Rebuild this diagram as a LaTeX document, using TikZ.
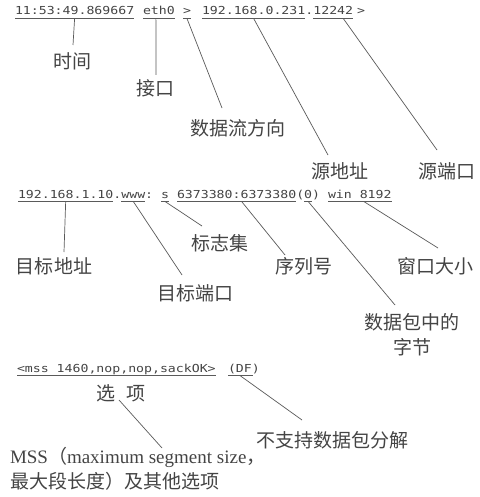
\documentclass[tikz,border=0pt]{standalone}
\usepackage{fontspec}
\setmainfont{Liberation Serif}
\newfontfamily\cjkfont{Noto Sans CJK SC}
\newfontfamily\monofont[FakeStretch=1.2]{DejaVu Sans Mono}
\definecolor{inkgray}{HTML}{444444}
\definecolor{wiregray}{HTML}{5A5A5A}
\tikzset{
  tok/.style={font=\monofont\fontsize{11}{12}\selectfont, text=inkgray, inner sep=0pt, outer sep=0pt, anchor=base west},
  lbl/.style={font=\cjkfont\fontsize{19}{25}\selectfont, text=inkgray, inner sep=0pt, outer sep=0pt},
  uline/.style={draw=wiregray, line width=0.9pt},
  conn/.style={draw=wiregray, line width=0.7pt},
}
\newcommand\ulnode[1]{\draw[uline] ([yshift=-3.5pt]#1.base west) -- ([yshift=-3.5pt]#1.base east);}
\begin{document}
\begin{tikzpicture}[x=1pt,y=-1pt]
\fill[white] (0,0) rectangle (479,497);
\useasboundingbox (0,0) rectangle (479,497);

% ---------- row 1 ----------
\node[tok] (time) at (15,15) {11:53:49.869667};
\node[tok] (eth) at (143,15) {eth0};
\node[tok] (dir) at (183,15) {>};
\node[tok] (sip) at (202,15) {192.168.0.231};
\node[tok] (dot1) at (305.4,15) {.};
\node[tok] (sport) at (313.4,15) {12242};
\node[tok] (gt2) at (357,15) {>};
\ulnode{time}\ulnode{eth}\ulnode{dir}\ulnode{sip}\ulnode{sport}

\node[lbl] (lTime) at (72,61) {时间};
\node[lbl] (lIf) at (155,88) {接口};
\node[lbl] (lDir) at (238,128) {数据流方向};
\node[lbl] (lSrc) at (340,171) {源地址};
\node[lbl] (lSport) at (447,171) {源端口};

\draw[conn] ([yshift=-3.5pt]time.base) -- ([shift={(1,-16)}]lTime.center);
\draw[conn] ([xshift=-3pt,yshift=-3.5pt]eth.base) -- ([shift={(1,-13)}]lIf.center);
\draw[conn] ([yshift=-3.5pt]dir.base) -- ([shift={(-16,-20)}]lDir.center);
\draw[conn] ([yshift=-3.5pt]sip.base) -- ([shift={(-12,-16)}]lSrc.center);
\draw[conn] ([xshift=10pt,yshift=-3.5pt]sport.base) -- ([shift={(-10,-21)}]lSport.center);

% ---------- row 2 ----------
\node[tok] (dip) at (18,198) {192.168.1.10};
\node[tok] (dot2) at (113.4,198) {.};
\node[tok] (www) at (121.4,198) {www};
\node[tok] (colon) at (145.2,198) {:};
\node[tok] (flag) at (161.1,198) {s};
\node[tok] (seq) at (177,198) {6373380:6373380};
\node[tok] (lp) at (296.3,198) {(};
\node[tok] (nbytes) at (304.2,198) {0};
\node[tok] (rp) at (312.2,198) {)};
\node[tok] (win) at (328,198) {win 8192};
\ulnode{dip}\ulnode{www}\ulnode{flag}\ulnode{seq}\ulnode{nbytes}\ulnode{win}

\node[lbl] (lDst) at (54,266) {目标地址};
\node[lbl] (lDport) at (195,293) {目标端口};
\node[lbl] (lFlag) at (220,243) {标志集};
\node[lbl] (lSeq) at (304,266) {序列号};
\node[lbl, align=center] (lBytes) at (412,335) {数据包中的\\字节};
\node[lbl] (lWin) at (435,266) {窗口大小};

\draw[conn] ([yshift=-3.5pt]dip.base) -- ([shift={(10,-14)}]lDst.center);
\draw[conn] ([yshift=-3.5pt]www.base) -- ([shift={(-13,-18)}]lDport.center);
\draw[conn] ([yshift=-3.5pt]flag.base) -- ([shift={(-18,-17)}]lFlag.center);
\draw[conn] ([xshift=5pt,yshift=-3.5pt]seq.base) -- ([shift={(-19,-11)}]lSeq.center);
\draw[conn] ([yshift=-3.5pt]nbytes.base) -- ([shift={(-17,-30)}]lBytes.center);
\draw[conn] ([xshift=4pt,yshift=-3.5pt]win.base) -- ([shift={(3,-18)}]lWin.center);

% ---------- row 3 ----------
\node[tok] (opts) at (17,372) {<mss 1460,nop,nop,sackOK>};
\node[tok] (df) at (228,372) {(DF)};
\ulnode{opts}
\draw[uline] ([yshift=-3.5pt]df.base west) -- ([xshift=-7pt,yshift=-3.5pt]df.base east);

\node[lbl] (lOpt) at (121,393) {选\hspace{12pt}项};
\node[lbl] (lDF) at (332,440) {不支持数据包分解};
\node[lbl, anchor=west, align=left] (lMss) at (10,469)
  {{\rmfamily MSS}（{\rmfamily maximum segment size}，\\{\cjkfont 最大段长度）及其他选项}};

\draw[conn] ([xshift=-4pt,yshift=-3.5pt]df.base) -- ([shift={(-30,-20)}]lDF.center);
\draw[conn] ([shift={(-2,7)}]lOpt.center) -- ([shift={(152,-21)}]lMss.west);
\end{tikzpicture}
\end{document}
